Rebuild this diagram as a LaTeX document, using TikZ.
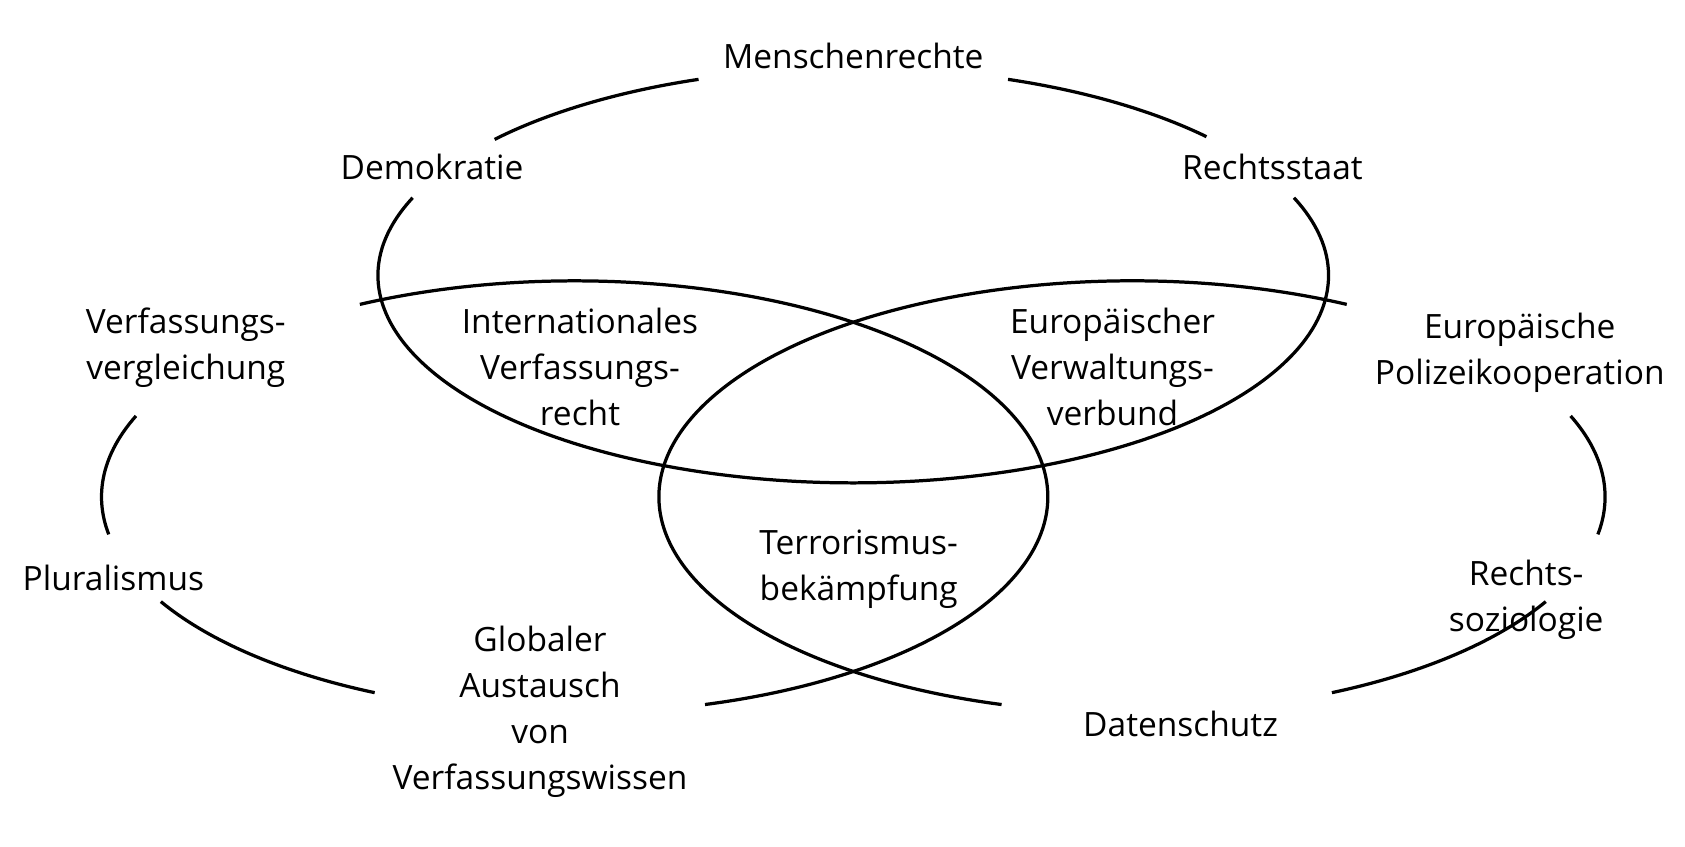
\documentclass[tikz,border=0pt]{standalone}
\usepackage{fontspec}
\setmainfont{Open Sans}
\begin{document}
\begin{tikzpicture}[x=0.5pt,y=0.5pt,
  lbl/.style={align=center,font=\fontsize{15.5pt}{21.25pt}\selectfont,inner sep=0pt},
  ring/.style={line width=1.5pt}]
\useasboundingbox (0,0) rectangle (1560,-784);
% top ellipse
\coordinate (ct) at (790,-255);
\draw[ring] (ct) ++(109:440 and 192) arc[start angle=109,end angle=139,x radius=440,y radius=192];
\draw[ring] (ct) ++(158:440 and 192) arc[start angle=158,end angle=382,x radius=440,y radius=192];
\draw[ring] (ct) ++(42:440 and 192) arc[start angle=42,end angle=71,x radius=440,y radius=192];
% left ellipse
\coordinate (cl) at (532,-460);
\draw[ring] (cl) ++(-74:438 and 200) arc[start angle=-74,end angle=117,x radius=438,y radius=200];
\draw[ring] (cl) ++(158:438 and 200) arc[start angle=158,end angle=190,x radius=438,y radius=200];
\draw[ring] (cl) ++(209:438 and 200) arc[start angle=209,end angle=245,x radius=438,y radius=200];
% right ellipse
\coordinate (cr) at (1048,-460);
\draw[ring] (cr) ++(63:438 and 200) arc[start angle=63,end angle=254,x radius=438,y radius=200];
\draw[ring] (cr) ++(-10:438 and 200) arc[start angle=-10,end angle=22,x radius=438,y radius=200];
\draw[ring] (cr) ++(-65:438 and 200) arc[start angle=-65,end angle=-29,x radius=438,y radius=200];
% labels
\node[lbl] (m) at (790,-52) {Menschenrechte};
\node[lbl] (d) at (400,-155) {Demokratie};
\node[lbl] (r) at (1178,-155) {Rechtsstaat};
\node[lbl] (v) at (172,-322) {Verfassungs-\\vergleichung};
\node[lbl] (i) at (537,-340) {Internationales\\Verfassungs-\\recht};
\node[lbl] (e) at (1030,-340) {Europäischer\\Verwaltungs-\\verbund};
\node[lbl] (p) at (1407,-327) {Europäische\\Polizeikooperation};
\node[lbl] (pl) at (105,-535) {Pluralismus};
\node[lbl] (t) at (795,-527) {Terrorismus-\\bekämpfung};
\node[lbl] (rs) at (1413,-555) {Rechts-\\soziologie};
\node[lbl] (g) at (500,-659) {Globaler\\Austausch\\von\\Verfassungswissen};
\node[lbl] (ds) at (1093,-670) {Datenschutz};
\end{tikzpicture}
\end{document}
